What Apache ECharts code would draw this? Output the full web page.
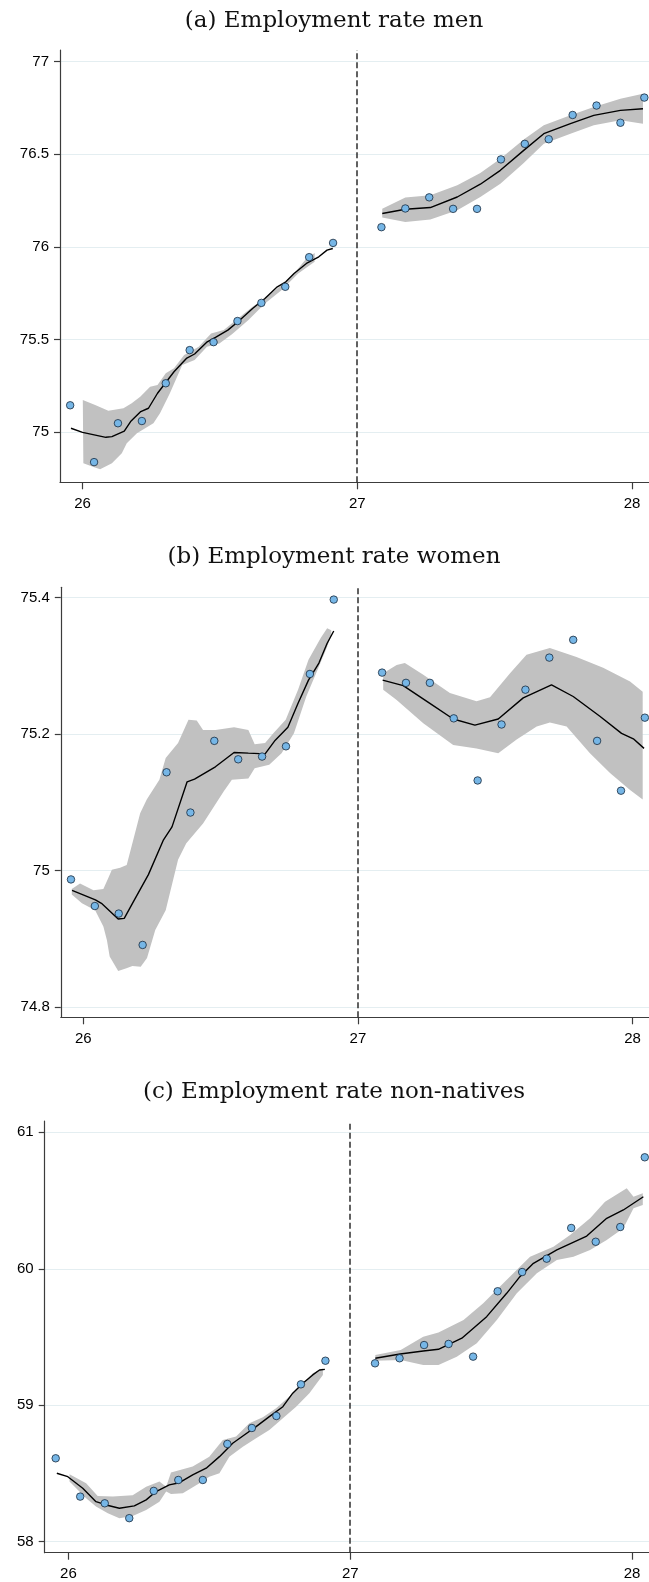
<!DOCTYPE html>
<html><head><meta charset="utf-8">
<script src="https://cdn.jsdelivr.net/npm/echarts@6/dist/echarts.min.js"></script>
<style>html,body{margin:0;padding:0;background:#fff}#c{width:649px;height:1582px}</style>
</head><body><div id="c"></div>
<script>
// ---------- DATA ----------
const binX = [25.955, 26.042, 26.129, 26.216, 26.303, 26.390, 26.477, 26.564, 26.651, 26.738, 26.825, 26.912,
              27.088, 27.175, 27.262, 27.349, 27.436, 27.523, 27.610, 27.697, 27.784, 27.871, 27.958, 28.045];
const cutoff = 27;
const xTicks = [26, 27, 28];
const panelTitles = ['(a) Employment rate men', '(b) Employment rate women', '(c) Employment rate non-natives'];

// (a) men
const menRate = [75.144, 74.837, 75.047, 75.059, 75.263, 75.442, 75.485, 75.599, 75.697, 75.784, 75.944, 76.021,
                 76.106, 76.207, 76.267, 76.205, 76.205, 76.472, 76.556, 76.581, 76.712, 76.763, 76.670, 76.806];
const menTicks = [75, 75.5, 76, 76.5, 77];
const menFitL = [[25.958,75.020],[26.000,74.998],[26.085,74.971],[26.107,74.975],[26.152,75.004],[26.175,75.056],[26.212,75.110],[26.240,75.128],[26.273,75.209],[26.333,75.325],[26.378,75.397],[26.408,75.421],[26.454,75.487],[26.484,75.511],[26.529,75.550],[26.567,75.597],[26.619,75.667],[26.664,75.721],[26.709,75.784],[26.740,75.811],[26.770,75.856],[26.815,75.910],[26.860,75.946],[26.890,75.982],[26.911,75.991]];
const menFitR = [[27.091,76.180],[27.175,76.203],[27.266,76.212],[27.364,76.269],[27.448,76.338],[27.521,76.413],[27.606,76.521],[27.679,76.611],[27.776,76.665],[27.861,76.710],[27.958,76.737],[28.040,76.746]];
const menUpL = [[26.001,75.173],[26.046,75.146],[26.094,75.115],[26.149,75.128],[26.179,75.155],[26.210,75.190],[26.246,75.244],[26.273,75.254],[26.303,75.317],[26.333,75.344],[26.370,75.415],[26.423,75.460],[26.468,75.532],[26.514,75.550],[26.559,75.604],[26.619,75.676],[26.679,75.739],[26.755,75.829],[26.815,75.937],[26.845,75.967]];
const menLoL = [[26.003,74.831],[26.040,74.810],[26.064,74.799],[26.107,74.831],[26.143,74.885],[26.161,74.939],[26.198,74.993],[26.258,75.047],[26.282,75.101],[26.318,75.209],[26.363,75.361],[26.408,75.388],[26.453,75.460],[26.498,75.478],[26.544,75.527],[26.604,75.604],[26.664,75.694],[26.724,75.766],[26.785,75.856],[26.845,75.919]];
const menUpR = [[27.091,76.206],[27.175,76.266],[27.266,76.278],[27.364,76.332],[27.448,76.399],[27.521,76.476],[27.606,76.579],[27.679,76.656],[27.776,76.710],[27.861,76.755],[27.958,76.800],[28.040,76.827]];
const menLoR = [[27.091,76.158],[27.175,76.134],[27.266,76.147],[27.364,76.197],[27.448,76.269],[27.521,76.341],[27.606,76.453],[27.679,76.557],[27.776,76.611],[27.861,76.656],[27.958,76.683],[28.040,76.665]];

// (b) women
const womenRate = [74.987, 74.948, 74.937, 74.891, 75.144, 75.085, 75.190, 75.163, 75.167, 75.182, 75.288, 75.397,
                   75.290, 75.275, 75.275, 75.223, 75.132, 75.214, 75.265, 75.312, 75.338, 75.190, 75.117, 75.224];
const womenTicks = [74.8, 75, 75.2, 75.4];
const womenFitL = [[25.959,74.971],[26.044,74.957],[26.066,74.952],[26.127,74.929],[26.149,74.930],[26.179,74.952],[26.237,74.994],[26.292,75.045],[26.323,75.064],[26.378,75.130],[26.405,75.134],[26.481,75.152],[26.549,75.173],[26.601,75.172],[26.662,75.171],[26.699,75.191],[26.745,75.210],[26.782,75.245],[26.820,75.279],[26.858,75.304],[26.888,75.333],[26.912,75.351]];
const womenFitR = [[27.090,75.279],[27.165,75.271],[27.262,75.245],[27.347,75.222],[27.426,75.213],[27.511,75.222],[27.602,75.253],[27.705,75.272],[27.784,75.255],[27.881,75.226],[27.960,75.201],[28.003,75.193],[28.042,75.179]];
const womenUpL = [[25.958,74.973],[25.988,74.981],[26.037,74.971],[26.073,74.973],[26.091,74.989],[26.104,75.001],[26.134,75.004],[26.158,75.008],[26.182,75.045],[26.207,75.084],[26.231,75.104],[26.277,75.133],[26.300,75.165],[26.345,75.187],[26.383,75.221],[26.413,75.220],[26.436,75.206],[26.481,75.206],[26.549,75.210],[26.601,75.206],[26.624,75.185],[26.662,75.187],[26.692,75.201],[26.737,75.221],[26.782,75.265],[26.820,75.309],[26.865,75.341],[26.888,75.355],[26.903,75.352]];
const womenLoL = [[25.958,74.965],[25.995,74.952],[26.043,74.942],[26.073,74.918],[26.086,74.898],[26.096,74.874],[26.127,74.853],[26.157,74.857],[26.179,74.860],[26.209,74.859],[26.232,74.872],[26.262,74.913],[26.300,74.942],[26.345,75.016],[26.375,75.040],[26.436,75.069],[26.511,75.116],[26.541,75.133],[26.601,75.135],[26.624,75.150],[26.677,75.155],[26.722,75.172],[26.767,75.201],[26.812,75.255],[26.858,75.299],[26.888,75.328],[26.903,75.345]];
const womenUpR = [[27.092,75.289],[27.141,75.301],[27.171,75.304],[27.238,75.287],[27.335,75.260],[27.432,75.248],[27.481,75.254],[27.554,75.289],[27.614,75.316],[27.699,75.326],[27.796,75.313],[27.893,75.297],[27.991,75.277],[28.037,75.262]];
const womenLoR = [[27.092,75.265],[27.141,75.250],[27.238,75.216],[27.347,75.184],[27.432,75.179],[27.511,75.172],[27.578,75.192],[27.651,75.211],[27.699,75.217],[27.760,75.211],[27.845,75.172],[27.918,75.143],[27.991,75.118],[28.037,75.104]];

// (c) non-natives
const nonNatRate = [58.611, 58.330, 58.281, 58.172, 58.372, 58.452, 58.452, 58.716, 58.833, 58.921, 59.153, 59.326,
                    59.307, 59.344, 59.441, 59.449, 59.356, 59.835, 59.976, 60.074, 60.299, 60.198, 60.306, 60.817];
const nonNatTicks = [58, 59, 60, 61];
const nonNatFitL = [[25.959,58.501],[25.998,58.476],[26.051,58.391],[26.098,58.293],[26.134,58.269],[26.181,58.245],[26.234,58.262],[26.276,58.306],[26.311,58.367],[26.358,58.416],[26.394,58.432],[26.441,58.489],[26.489,58.538],[26.536,58.623],[26.583,58.721],[26.624,58.782],[26.666,58.843],[26.713,58.916],[26.761,58.989],[26.796,59.088],[26.832,59.161],[26.867,59.222],[26.891,59.258],[26.910,59.263]];
const nonNatFitR = [[27.089,59.344],[27.177,59.375],[27.259,59.397],[27.313,59.410],[27.396,59.491],[27.484,59.649],[27.555,59.820],[27.602,59.942],[27.650,60.040],[27.733,60.138],[27.839,60.240],[27.910,60.370],[27.969,60.431],[28.040,60.528]];
const nonNatUpL = [[26.004,58.494],[26.063,58.428],[26.104,58.335],[26.158,58.330],[26.228,58.340],[26.276,58.403],[26.323,58.440],[26.347,58.403],[26.364,58.506],[26.441,58.550],[26.500,58.623],[26.548,58.745],[26.595,58.770],[26.642,58.868],[26.690,58.912],[26.737,58.978],[26.784,59.063],[26.832,59.161],[26.867,59.234],[26.903,59.271]];
const nonNatLoL = [[26.004,58.440],[26.063,58.318],[26.098,58.257],[26.140,58.208],[26.181,58.172],[26.228,58.188],[26.276,58.232],[26.323,58.293],[26.347,58.367],[26.364,58.350],[26.406,58.355],[26.465,58.428],[26.500,58.476],[26.536,58.501],[26.571,58.623],[26.619,58.696],[26.666,58.757],[26.713,58.818],[26.761,58.904],[26.808,58.989],[26.855,59.088],[26.903,59.222]];
const nonNatUpR = [[27.089,59.368],[27.179,59.405],[27.259,59.502],[27.313,59.532],[27.402,59.625],[27.472,59.747],[27.543,59.894],[27.638,60.088],[27.721,60.162],[27.780,60.247],[27.851,60.370],[27.904,60.492],[27.981,60.590],[28.005,60.528],[28.038,60.553]];
const nonNatLoR = [[27.089,59.326],[27.179,59.331],[27.259,59.295],[27.313,59.295],[27.378,59.356],[27.449,59.454],[27.520,59.625],[27.591,59.820],[27.662,59.967],[27.733,60.064],[27.792,60.088],[27.851,60.138],[27.910,60.211],[27.969,60.297],[28.005,60.443],[28.038,60.467]];

// ---------- LAYOUT ----------
const panels = [
  {title: panelTitles[0], titleTop: 10, grid: {left: 60, top: 50, width: 589, height: 432.3},
   x: [25.918, 28.062], y: [74.728, 77.063], yTicks: menTicks, rate: menRate,
   fits: [menFitL, menFitR], bands: [[menUpL, menLoL], [menUpR, menLoR]]},
  {title: panelTitles[1], titleTop: 546, grid: {left: 60.8, top: 587.3, width: 588.2, height: 430},
   x: [25.918, 28.060], y: [74.785, 75.415], yTicks: womenTicks, rate: womenRate,
   fits: [womenFitL, womenFitR], bands: [[womenUpL, womenLoL], [womenUpR, womenLoR]]},
  {title: panelTitles[2], titleTop: 1081, grid: {left: 44.7, top: 1121, width: 604.3, height: 431.7},
   x: [25.916, 28.060], y: [57.919, 61.083], yTicks: nonNatTicks, rate: nonNatRate,
   fits: [nonNatFitL, nonNatFitR], bands: [[nonNatUpL, nonNatLoL], [nonNatUpR, nonNatLoR]]}
];

const axisCol = '#3c3c3c';
const labelFont = {fontFamily: '"Liberation Sans", Arial, sans-serif', fontSize: 15, color: '#000'};
const option = {animation: false, backgroundColor: '#fff', title: [], grid: [], xAxis: [], yAxis: [], series: []};

panels.forEach((p, i) => {
  option.title.push({
    text: p.title, left: 334, top: p.titleTop, textAlign: 'center', padding: 0,
    textStyle: {fontFamily: '"DejaVu Serif", "Liberation Serif", serif', fontSize: 23, fontWeight: 'normal', color: '#111'}
  });
  option.grid.push(Object.assign({containLabel: false}, p.grid));
  option.xAxis.push({
    type: 'value', gridIndex: i, min: p.x[0], max: p.x[1],
    axisLine: {show: true, onZero: false, lineStyle: {color: axisCol, width: 1.2}},
    axisTick: {show: true, length: 7, customValues: xTicks, lineStyle: {color: axisCol, width: 1.2}},
    axisLabel: Object.assign({customValues: xTicks, margin: 14, formatter: v => String(v)}, labelFont),
    splitLine: {show: false}
  });
  option.yAxis.push({
    type: 'value', gridIndex: i, min: p.y[0], max: p.y[1],
    axisLine: {show: true, onZero: false, lineStyle: {color: axisCol, width: 1.2}},
    axisTick: {show: true, length: 6, customValues: p.yTicks, lineStyle: {color: axisCol, width: 1.2}},
    axisLabel: Object.assign({customValues: p.yTicks, margin: 11, formatter: v => String(Math.round(v * 10) / 10)}, labelFont),
    splitLine: {show: true, lineStyle: {color: '#e4eef1', width: 1}}
  });
  p.bands.forEach(b => {
    const up = b[0], lo = b[1];
    option.series.push({
      type: 'custom', xAxisIndex: i, yAxisIndex: i, silent: true, z: 1,
      data: [up[0]],
      renderItem: (params, api) => {
        const pts = up.map(q => api.coord(q)).concat(lo.slice().reverse().map(q => api.coord(q)));
        return {type: 'polygon', shape: {points: pts}, style: {fill: '#c1c1c1'}};
      }
    });
  });
  p.fits.forEach(f => {
    option.series.push({
      type: 'line', xAxisIndex: i, yAxisIndex: i, data: f, showSymbol: false, silent: true, z: 3,
      lineStyle: {color: '#000', width: 1.4}
    });
  });
  option.series.push({
    type: 'scatter', xAxisIndex: i, yAxisIndex: i, z: 4,
    data: binX.map((x, k) => [x, p.rate[k]]),
    symbolSize: 7.5,
    itemStyle: {color: '#76b6e6', borderColor: '#18293c', borderWidth: 0.8, opacity: 1},
    markLine: {
      silent: true, symbol: 'none', label: {show: false}, animation: false,
      lineStyle: {type: [6, 3], color: '#2e2e2e', width: 1.5},
      data: [{xAxis: cutoff}]
    }
  });
});

const chart = echarts.init(document.getElementById('c'), null, {renderer: 'canvas'});
chart.setOption(option);
</script>
</body></html>
